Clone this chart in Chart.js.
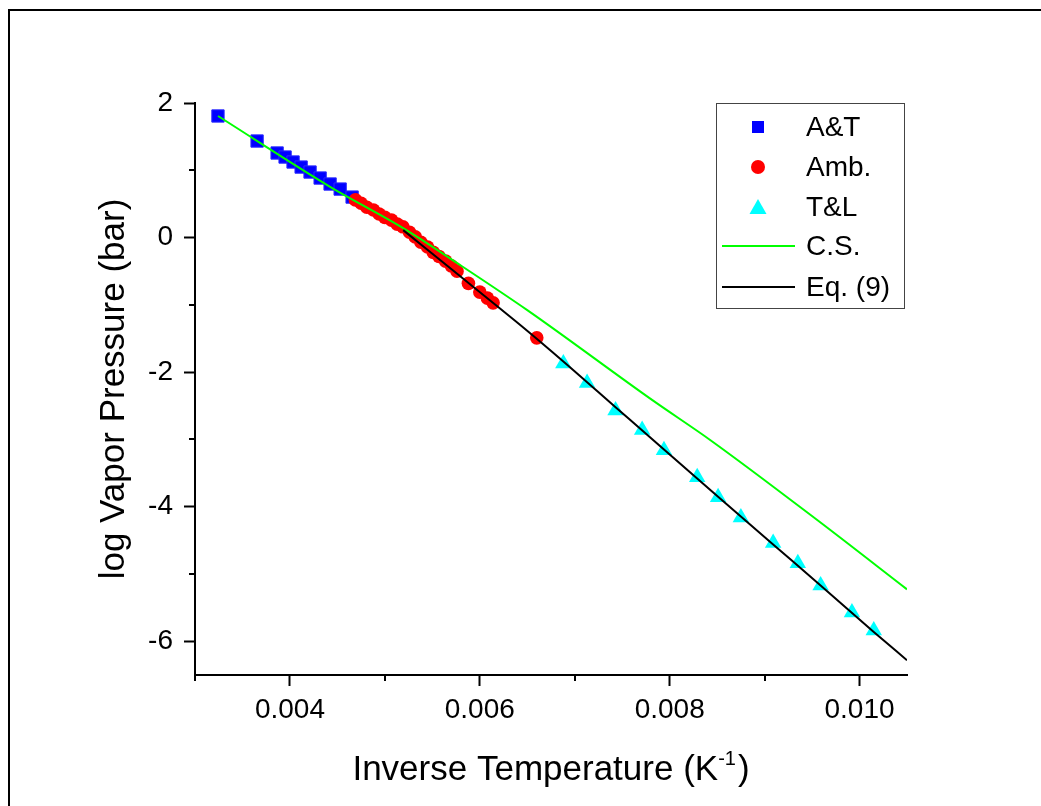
<!DOCTYPE html>
<html>
<head>
<meta charset="utf-8">
<script src="https://cdn.jsdelivr.net/npm/chart.js"></script>
<style>
  html, body { margin: 0; padding: 0; background: #fff; }
  #wrap { width: 1041px; height: 806px; }
</style>
</head>
<body>
<div id="wrap"><canvas id="c" width="1041" height="806"></canvas></div>
<script>
// ---- data ----
const atX = [0.003242, 0.003654, 0.003865, 0.003949, 0.004033, 0.004118, 0.004212, 0.004318, 0.004423, 0.004529, 0.004655];
const atY = [1.807, 1.435, 1.257, 1.197, 1.123, 1.048, 0.974, 0.885, 0.796, 0.721, 0.602];

const ambX = [0.00469, 0.00475, 0.00481, 0.00488, 0.00494, 0.00500, 0.00507, 0.00513, 0.00519, 0.00526, 0.00532, 0.00538, 0.00545, 0.00551, 0.00557, 0.00564, 0.00570, 0.00576, 0.00588, 0.00600, 0.00608, 0.00614, 0.00660];
const ambY = [0.56, 0.51, 0.45, 0.41, 0.35, 0.30, 0.26, 0.20, 0.16, 0.08, 0.01, -0.07, -0.14, -0.22, -0.28, -0.35, -0.42, -0.50, -0.68, -0.81, -0.90, -0.97, -1.49];

const tlX = [0.00688, 0.00713, 0.00743, 0.00771, 0.00794, 0.00829, 0.00851, 0.00875, 0.00909, 0.00935, 0.00959, 0.00992, 0.01015];
const tlY = [-1.87, -2.16, -2.57, -2.86, -3.16, -3.56, -3.86, -4.16, -4.54, -4.84, -5.17, -5.57, -5.84];

const csX = [0.003242, 0.004423, 0.005193, 0.005794, 0.006500, 0.007818, 0.008430, 0.009558, 0.010500];
const csY = [1.807, 0.755, 0.141, -0.409, -1.078, -2.416, -3.011, -4.201, -5.227];

const eqX = [0.005193, 0.005794, 0.006184, 0.006458, 0.00688, 0.00743, 0.00794, 0.00851, 0.00909, 0.00959, 0.01015, 0.010500];
const eqY = [0.111, -0.575, -1.020, -1.335, -1.84, -2.52, -3.15, -3.85, -4.56, -5.17, -5.86, -6.28];

const seriesLabels = ['A&T', 'Amb.', 'T&L', 'C.S.', 'Eq. (9)'];

const xTicks = [0.004, 0.006, 0.008, 0.010];
const xMinorTicks = [0.003, 0.005, 0.007, 0.009];
const yTicks = [-6, -4, -2, 0, 2];
const yMinorTicks = [-5, -3, -1, 1];
const xRange = [0.003, 0.0105];
const yRange = [-6.5, 2];

const xTitleMain = 'Inverse Temperature (K';
const xTitleSup = '-1';
const xTitleEnd = ')';
const yTitle = 'log Vapor Pressure (bar)';

// ---- helpers ----
const FAM = "'Liberation Sans', Arial, sans-serif";
const pts = (xs, ys) => xs.map((x, i) => ({ x: x, y: ys[i] }));

const framePlugin = {
  id: 'frame',
  beforeDraw(chart) {
    const ctx = chart.ctx;
    ctx.save();
    ctx.fillStyle = '#fff';
    ctx.fillRect(0, 0, chart.width, chart.height);
    ctx.fillStyle = '#000';
    ctx.fillRect(8, 9, chart.width - 8, 2);
    ctx.fillRect(8, 9, 2, chart.height - 9);
    ctx.restore();
  }
};

const extrasPlugin = {
  id: 'extras',
  afterDraw(chart) {
    const ctx = chart.ctx;
    const xs = chart.scales.x, ys = chart.scales.y;
    const ca = chart.chartArea;
    ctx.save();
    // minor ticks
    ctx.strokeStyle = '#000';
    ctx.lineWidth = 2;
    ctx.beginPath();
    xMinorTicks.forEach(v => {
      const p = Math.round(xs.getPixelForValue(v));
      ctx.moveTo(p, ca.bottom);
      ctx.lineTo(p, ca.bottom + 6);
    });
    yMinorTicks.forEach(v => {
      const p = Math.round(ys.getPixelForValue(v));
      ctx.moveTo(ca.left - 6, p);
      ctx.lineTo(ca.left, p);
    });
    ctx.stroke();

    // x axis title with superscript
    const mid = (ca.left + ca.right) / 2;
    const bigFont = '35px ' + FAM;
    const supFont = '20px ' + FAM;
    ctx.font = bigFont;
    const w1 = ctx.measureText(xTitleMain).width;
    const w3 = ctx.measureText(xTitleEnd).width;
    ctx.font = supFont;
    const w2 = ctx.measureText(xTitleSup).width;
    const total = w1 + w2 + w3 + 2;
    let x0 = mid - total / 2;
    const base = 780;
    ctx.fillStyle = '#000';
    ctx.textBaseline = 'alphabetic';
    ctx.textAlign = 'left';
    ctx.font = bigFont;
    ctx.fillText(xTitleMain, x0, base);
    ctx.font = supFont;
    ctx.fillText(xTitleSup, x0 + w1, base - 15);
    ctx.font = bigFont;
    ctx.fillText(xTitleEnd, x0 + w1 + w2 + 2, base);

    // legend
    const bx = 716, by = 103, bw = 188, bh = 205;
    ctx.strokeStyle = '#444';
    ctx.lineWidth = 1;
    ctx.strokeRect(bx + 0.5, by + 0.5, bw, bh);
    const rows = [127, 167, 207, 246, 287];
    chart.data.datasets.forEach((ds, i) => {
      const y = rows[i];
      if (ds.showLine) {
        ctx.strokeStyle = ds.borderColor;
        ctx.lineWidth = 2;
        ctx.beginPath();
        ctx.moveTo(722, y);
        ctx.lineTo(795, y);
        ctx.stroke();
      } else {
        ctx.fillStyle = ds.backgroundColor;
        const cx = 758;
        ctx.beginPath();
        if (ds.pointStyle === 'rect') {
          ctx.rect(cx - 6, y - 6, 12, 12);
        } else if (ds.pointStyle === 'circle') {
          ctx.arc(cx, y, 7, 0, Math.PI * 2);
        } else {
          ctx.moveTo(cx, y - 8);
          ctx.lineTo(cx + 8.5, y + 7);
          ctx.lineTo(cx - 8.5, y + 7);
          ctx.closePath();
        }
        ctx.fill();
      }
      ctx.fillStyle = '#000';
      ctx.font = '28px ' + FAM;
      ctx.textAlign = 'left';
      ctx.textBaseline = 'middle';
      ctx.fillText(ds.label, 806, y + 1);
    });
    ctx.restore();
  }
};

const tickFont = { family: FAM, size: 28 };

new Chart(document.getElementById('c'), {
  type: 'scatter',
  data: {
    datasets: [
      { label: seriesLabels[0], data: pts(atX, atY), pointStyle: 'rect', pointRadius: 8.7,
        backgroundColor: '#0000ff', borderColor: '#2a2aff', borderWidth: 1, showLine: false, order: 5 },
      { label: seriesLabels[1], data: pts(ambX, ambY), pointStyle: 'circle', pointRadius: 6.8,
        backgroundColor: '#ff0000', borderColor: '#ff0000', borderWidth: 0, showLine: false, order: 4 },
      { label: seriesLabels[2], data: pts(tlX, tlY), pointStyle: 'triangle', pointRadius: 9.5,
        backgroundColor: '#00ffff', borderColor: '#00ffff', borderWidth: 0, showLine: false, order: 3 },
      { label: seriesLabels[3], data: pts(csX, csY), showLine: true, pointRadius: 0, borderColor: '#00ff00',
        backgroundColor: '#00ff00', borderWidth: 2, cubicInterpolationMode: 'monotone', order: 1 },
      { label: seriesLabels[4], data: pts(eqX, eqY), showLine: true, pointRadius: 0, borderColor: '#000000',
        backgroundColor: '#000000', borderWidth: 2, cubicInterpolationMode: 'monotone', order: 0 }
    ]
  },
  options: {
    responsive: false,
    animation: false,
    devicePixelRatio: 1,
    layout: { padding: { left: 0, right: 134, top: 103, bottom: 0 } },
    plugins: { legend: { display: false }, tooltip: { enabled: false } },
    scales: {
      x: {
        type: 'linear', position: 'bottom', min: xRange[0], max: xRange[1],
        afterBuildTicks: s => { s.ticks = xTicks.map(v => ({ value: v })); },
        afterFit: s => { s.height = 131; },
        grid: { display: true, drawOnChartArea: false, drawTicks: true, tickLength: 11, tickWidth: 2, tickColor: '#000' },
        border: { display: true, color: '#000', width: 2 },
        ticks: { font: tickFont, color: '#000', padding: 7, maxRotation: 0, autoSkip: false,
                 callback: v => v.toFixed(3) },
        title: { display: false }
      },
      y: {
        type: 'linear', position: 'left', min: yRange[0], max: yRange[1],
        afterBuildTicks: s => { s.ticks = yTicks.map(v => ({ value: v })); },
        afterFit: s => { s.width = 195; },
        grid: { display: true, drawOnChartArea: false, drawTicks: true, tickLength: 11, tickWidth: 2, tickColor: '#000' },
        border: { display: true, color: '#000', width: 2 },
        ticks: { font: tickFont, color: '#000', padding: 11, autoSkip: false,
                 callback: v => String(v) },
        title: { display: true, text: yTitle, color: '#000', font: { family: FAM, size: 35 },
                 padding: { top: 93, bottom: 0 } }
      }
    }
  },
  plugins: [framePlugin, extrasPlugin]
});
</script>
</body>
</html>
